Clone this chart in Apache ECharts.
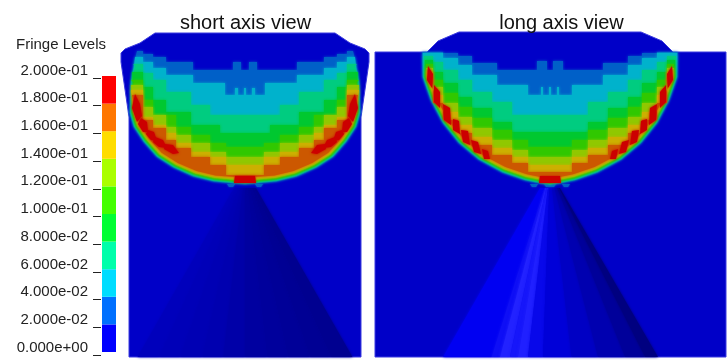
<!DOCTYPE html>
<html><head><meta charset="utf-8">
<style>html,body{margin:0;padding:0;background:#fff}#c{width:728px;height:364px}</style>
<script src="https://cdn.jsdelivr.net/npm/echarts@6/dist/echarts.min.js"></script>
</head><body><div id="c"></div>
<script>
// Fringe legend
const fringeLevels = [0,0.02,0.04,0.06,0.08,0.10,0.12,0.14,0.16,0.18];
const fringeStep = 0.02;
const tickLabels = ['0.000e+00','2.000e-02','4.000e-02','6.000e-02','8.000e-02','1.000e-01','1.200e-01','1.400e-01','1.600e-01','1.800e-01','2.000e-01'];
const legendColors = ['#0000ff','#0070ff','#00ddff','#00ffaa','#00ff33','#44ff00','#aaff00','#ffdd00','#ff7700','#ff0000'];
const shadedColors = ['#0000c8','#0060c8','#00b2cc','#00cc80','#00c830','#30c800','#90c800','#ccb000','#cc5800','#cc0000'];

// Panel outlines: [offset from axis, depth]
const outlineShort = [[-90,1],[90,1],[105,11],[120,17],[124,21],[124,30],[116,85],[116,325],[-116,325],[-116,85],[-124,30],[-124,21],[-120,17],[-105,11]];
const outlineLong = [[-91,0],[91,0],[112,9],[123,20],[176,20],[176,325],[-175,325],[-175,20],[-123,20],[-112,9]];

// Bowl rim (right half, top to axis)
const rimShort = [[107,19],[112,33],[115,50],[116,81],[112,95],[102,110],[89,125],[72,136],[52,145],[32,150],[12,152],[0,153]];
const rimLong = [[130,20],[128,45],[120,68],[108,91],[92,111],[72,128],[48,141],[25,149],[0,154]];
const rimInset = [0.7,1.4,2.1,2.8,3.5,4.5,5.5,7];

// Upper limit of each fringe level: [outer offset, depth]
const bandsShort = [
 [[4,38],[12,30],[52,38],[79,30],[92,25],[102,22],[108,19]],
 [[1,56],[7,63],[10,56],[20,63],[52,51],[79,43],[92,36],[102,30],[110,25]],
 [[35,83],[54,73],[79,60],[92,48],[102,41],[112,32]],
 [[25,101],[54,93],[79,80],[92,68],[102,55],[113,40]],
 [[19,115],[35,111],[54,103],[69,95],[92,83],[102,68],[114,48]],
 [[19,125],[35,120],[54,111],[69,103],[79,95],[92,83],[102,75],[114,53]],
 [[19,133],[35,125],[54,120],[69,111],[79,101],[92,93],[102,85],[114,58]],
 [[19,143],[35,133],[54,125],[69,116],[79,108],[92,96],[102,88],[113,63]]
];
const bandsLong = [
 [[3,38],[13,29],[53,38],[78,31],[92,24],[107,21],[128,20]],
 [[1,55],[7,63],[9,55],[22,63],[53,53],[78,43],[92,33],[107,26],[117,21],[127,21]],
 [[38,83],[58,70],[78,60],[92,48],[107,38],[117,30],[126,24]],
 [[38,100],[58,90],[78,76],[92,65],[107,51],[117,40],[125,28]],
 [[22,115],[38,108],[58,98],[78,86],[92,75],[107,61],[117,48],[124,32]],
 [[22,125],[38,118],[58,108],[78,96],[92,85],[107,71],[117,55],[124,36]],
 [[22,133],[38,125],[58,116],[78,105],[92,93],[107,80],[117,63],[123,40]],
 [[22,140],[38,131],[58,123],[78,113],[92,101],[107,88],[117,71],[122,45]]
];
const peakCentreShort = [[-10,144],[10,144],[11,151],[-11,151]];
const peakCentreLong = [[-10,144],[10,144],[11,151],[-11,151]];
const peakArmShort = [
 [[110,62],[105,72],[103,84],[108,90],[113,76]],
 [[104,86],[98,90],[97,100],[102,100],[107,92]],
 [[97,98],[91,100],[88,109],[94,108],[99,102]],
 [[90,105],[82,108],[78,116],[86,115],[92,110]],
 [[80,112],[72,113],[66,121],[72,122],[81,117]]
];
const peakArmLong = [
 [[122,34],[117,42],[118,56],[123,48]],
 [[116,53],[110,60],[110,76],[116,70]],
 [[107,72],[100,76],[99,93],[106,88]],
 [[97,87],[91,89],[90,102],[97,98]],
 [[89,98],[82,99],[80,113],[87,110]],
 [[79,108],[72,110],[69,122],[76,120]],
 [[68,117],[62,119],[60,127],[66,127]]
];
const rimTeethShort = [[[-18,152],[-10,152],[-12,155],[-16,155]],[[10,152],[18,152],[16,155],[12,155]]];
const rimTeethLong = [[[-20,152],[-12,152],[-14,155],[-18,155]],[[-6,152],[6,152],[4,155],[-4,155]],[[12,152],[20,152],[18,155],[14,155]]];

// Cone below the bowl: base breaks and strip shades
const coneTopShort = [-11,11], coneTopLong = [-10,10], coneDepth = [156,325];
const coneBreaksShort = [-107.5,-86,-65,-43,-22,0,22,43,65,86,107.5];
const coneShadesShort = ['#0000bc','#0000b8','#0000b4','#0000b0','#0000a8','#0000a0','#00009c','#000098','#000094','#000090'];
const coneBreaksLong = [-107,-58.5,-50,-40,-32,-22,-7,21.5,48,75,95,108];
const coneShadesLong = ['#0000f2','#0e0ef6','#2222ff','#1616fa','#2020ff','#0808ea','#0000d8','#0000c4','#0000b0','#00009a','#000080'];

function bandPolygon(steps, rim, inset){
  const right=[]; let prev=0;
  steps.forEach(s=>{right.push([prev,s[1]],[s[0],s[1]]);prev=s[0];});
  const endDepth=steps[steps.length-1][1];
  rim.filter(p=>p[1]>endDepth).forEach(p=>{
    const vx=-p[0], vy=60-p[1], l=Math.hypot(vx,vy);
    right.push([p[0]+vx/l*inset,p[1]+vy/l*inset]);
  });
  return right.concat(right.slice().reverse().map(p=>[-p[0],p[1]]));
}
function coneStrips(breaks,shades,top){
  const a=breaks[0], b=breaks[breaks.length-1];
  const f=v=>top[0]+(v-a)/(b-a)*(top[1]-top[0]);
  return shades.map((c,i)=>({color:c,blur:3,points:[
    [f(breaks[i]),coneDepth[0]],[f(breaks[i+1]),coneDepth[0]],[breaks[i+1],coneDepth[1]],[breaks[i],coneDepth[1]]]}));
}
function panelShapes(outline,rim,bands,centre,arm,teeth,breaks,shades,top){
  const s=[{color:shadedColors[0],points:outline,stroke:'#3a3ae0',blur:0}];
  s.push(...coneStrips(breaks,shades,top));
  teeth.forEach(t=>s.push({color:shadedColors[1],blur:2,points:t}));
  bands.forEach((b,i)=>s.push({color:shadedColors[i+1],blur:3,points:bandPolygon(b,rim,rimInset[i])}));
  arm.forEach(a=>{
    s.push({color:shadedColors[9],blur:3,points:a});
    s.push({color:shadedColors[9],blur:3,points:a.map(p=>[-p[0],p[1]])});
  });
  s.push({color:shadedColors[9],blur:2,points:centre});
  return s;
}
const shapesShort=panelShapes(outlineShort,rimShort,bandsShort,peakCentreShort,peakArmShort,rimTeethShort,coneBreaksShort,coneShadesShort,coneTopShort);
const shapesLong=panelShapes(outlineLong,rimLong,bandsLong,peakCentreLong,peakArmLong,rimTeethLong,coneBreaksLong,coneShadesLong,coneTopLong);

function fieldSeries(shapes,idx,name){
  return {type:'custom',name,xAxisIndex:idx,yAxisIndex:idx,clip:false,silent:true,animation:false,
    data:shapes.map((s,i)=>[s.points[0][0],s.points[0][1],i]),
    encode:{x:0,y:1},
    renderItem:(params,api)=>{
      const s=shapes[api.value(2)];
      return {type:'polygon',shape:{points:s.points.map(p=>api.coord(p))},
        style:{fill:s.color,stroke:s.stroke||null,lineWidth:s.stroke?1:0,
          shadowBlur:s.blur||0,shadowColor:s.blur?s.color:'transparent'}};
    }};
}
const hidden={show:false};
const font='"Liberation Sans", Arial, sans-serif';
const chart=echarts.init(document.getElementById('c'),null,{renderer:'canvas'});
chart.setOption({
  animation:false,backgroundColor:'#fff',
  title:[
    {text:'short axis view',left:240.5,top:8,textAlign:'center',textStyle:{fontFamily:font,fontSize:20,fontWeight:'normal',color:'#111'}},
    {text:'long axis view',left:556.5,top:8,textAlign:'center',textStyle:{fontFamily:font,fontSize:20,fontWeight:'normal',color:'#111'}},
    {text:'Fringe Levels',left:16,top:37,padding:0,textStyle:{fontFamily:font,fontSize:15,fontWeight:'normal',color:'#222'}}
  ],
  grid:[
    {left:121,top:32,width:248,height:325},
    {left:375,top:32,width:352,height:325},
    {left:102,top:76,width:14,height:276},
    {left:101,top:78,width:1,height:277}
  ],
  xAxis:[
    {type:'value',gridIndex:0,min:-124,max:124,...hidden},
    {type:'value',gridIndex:1,min:-175,max:177,...hidden},
    {type:'category',gridIndex:2,data:['fringe'],...hidden},
    {type:'category',gridIndex:3,data:['fringe'],...hidden}
  ],
  yAxis:[
    {type:'value',gridIndex:0,min:0,max:325,inverse:true,...hidden},
    {type:'value',gridIndex:1,min:0,max:325,inverse:true,...hidden},
    {type:'value',gridIndex:2,min:0,max:0.2,...hidden},
    {type:'value',gridIndex:3,min:0,max:0.2,interval:0.02,position:'left',
      axisLine:{show:false},splitLine:{show:false},
      axisTick:{show:true,length:8,lineStyle:{color:'#222',width:1}},
      axisLabel:{show:true,margin:13,verticalAlign:'bottom',fontFamily:font,fontSize:15,color:'#222',
        formatter:v=>tickLabels[Math.round(v/fringeStep)]}}
  ],
  series:[
    fieldSeries(shapesShort,0,'short axis view'),
    fieldSeries(shapesLong,1,'long axis view'),
    ...fringeLevels.map((lv,i)=>({type:'bar',name:String(lv),xAxisIndex:2,yAxisIndex:2,stack:'fringe',barWidth:'100%',
      silent:true,animation:false,data:[fringeStep],itemStyle:{color:legendColors[i]}}))
  ]
});
</script></body></html>
